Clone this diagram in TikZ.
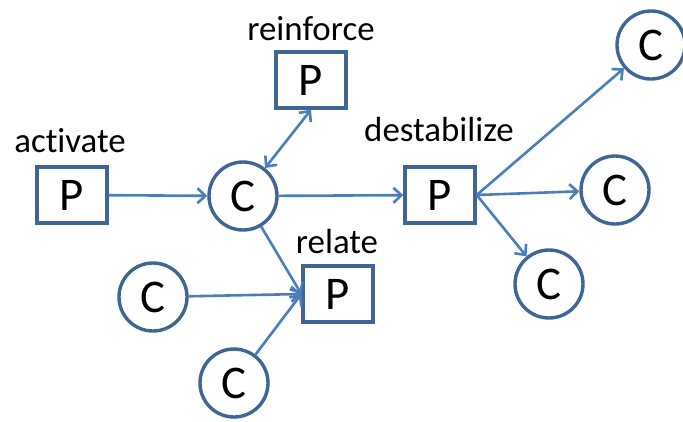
\documentclass[tikz,border=0pt]{standalone}
\usepackage{fontspec}
\setmainfont{Carlito}[Ligatures={NoCommon}]
\usetikzlibrary{arrows.meta}
\definecolor{edgeblue}{HTML}{3F6595}
\definecolor{arrowblue}{HTML}{4A7EBB}
\tikzset{
  pbox/.style={draw=edgeblue, line width=3.4bp, fill=white, minimum width=70bp, minimum height=56bp, inner sep=0pt, font=\fontsize{47}{47}\selectfont},
  cnode/.style={draw=edgeblue, line width=3.4bp, fill=white, circle, minimum size=68bp, inner sep=0pt, font=\fontsize{47}{47}\selectfont},
  lbl/.style={anchor=base, inner sep=0pt, font=\fontsize{35}{35}\selectfont},
  tipb/.tip={Straight Barb[length=8bp,width=15bp,line width=2.6bp]},
  conn/.style={draw=arrowblue, line width=2.6bp, -tipb},
  biconn/.style={draw=arrowblue, line width=2.6bp, tipb-tipb}
}
\begin{document}
\begin{tikzpicture}[x=1bp,y=-1bp]
\useasboundingbox (0,0) rectangle (683,421);
% nodes
\node[pbox] (aP) at (72,195) {P};
\node[cnode] (cC) at (243,196) {C};
\node[pbox] (rP) at (311,80) {P};
\node[pbox] (dP) at (440,195) {P};
\node[pbox] (lP) at (338,294) {P};
\node[cnode] (c1) at (651,45) {C};
\node[cnode] (c2) at (615,190) {C};
\node[cnode] (c3) at (549,284) {C};
\node[cnode] (c4) at (153,297) {C};
\node[cnode] (c5) at (234,383) {C};
% labels
\node[lbl] (actlbl) at (70,152) {activate};
\node[lbl] (reilbl) at (311,40) {reinforce};
\node[lbl] (deslbl) at (439,141) {destabilize};
\node[lbl] (rellbl) at (337,253) {relate};
% connectors
\draw[conn] (aP) -- (cC);
\draw[biconn] (cC) -- (rP.south);
\draw[conn] (cC) -- (dP);
\draw[conn] (cC) -- (lP.west);
\draw[conn] (c4) -- (lP.west);
\draw[conn] (c5) -- (lP.west);
\draw[conn] (dP.east) -- (c1);
\draw[conn] (dP.east) -- (c2);
\draw[conn] (dP.east) -- (c3);
\end{tikzpicture}
\end{document}
